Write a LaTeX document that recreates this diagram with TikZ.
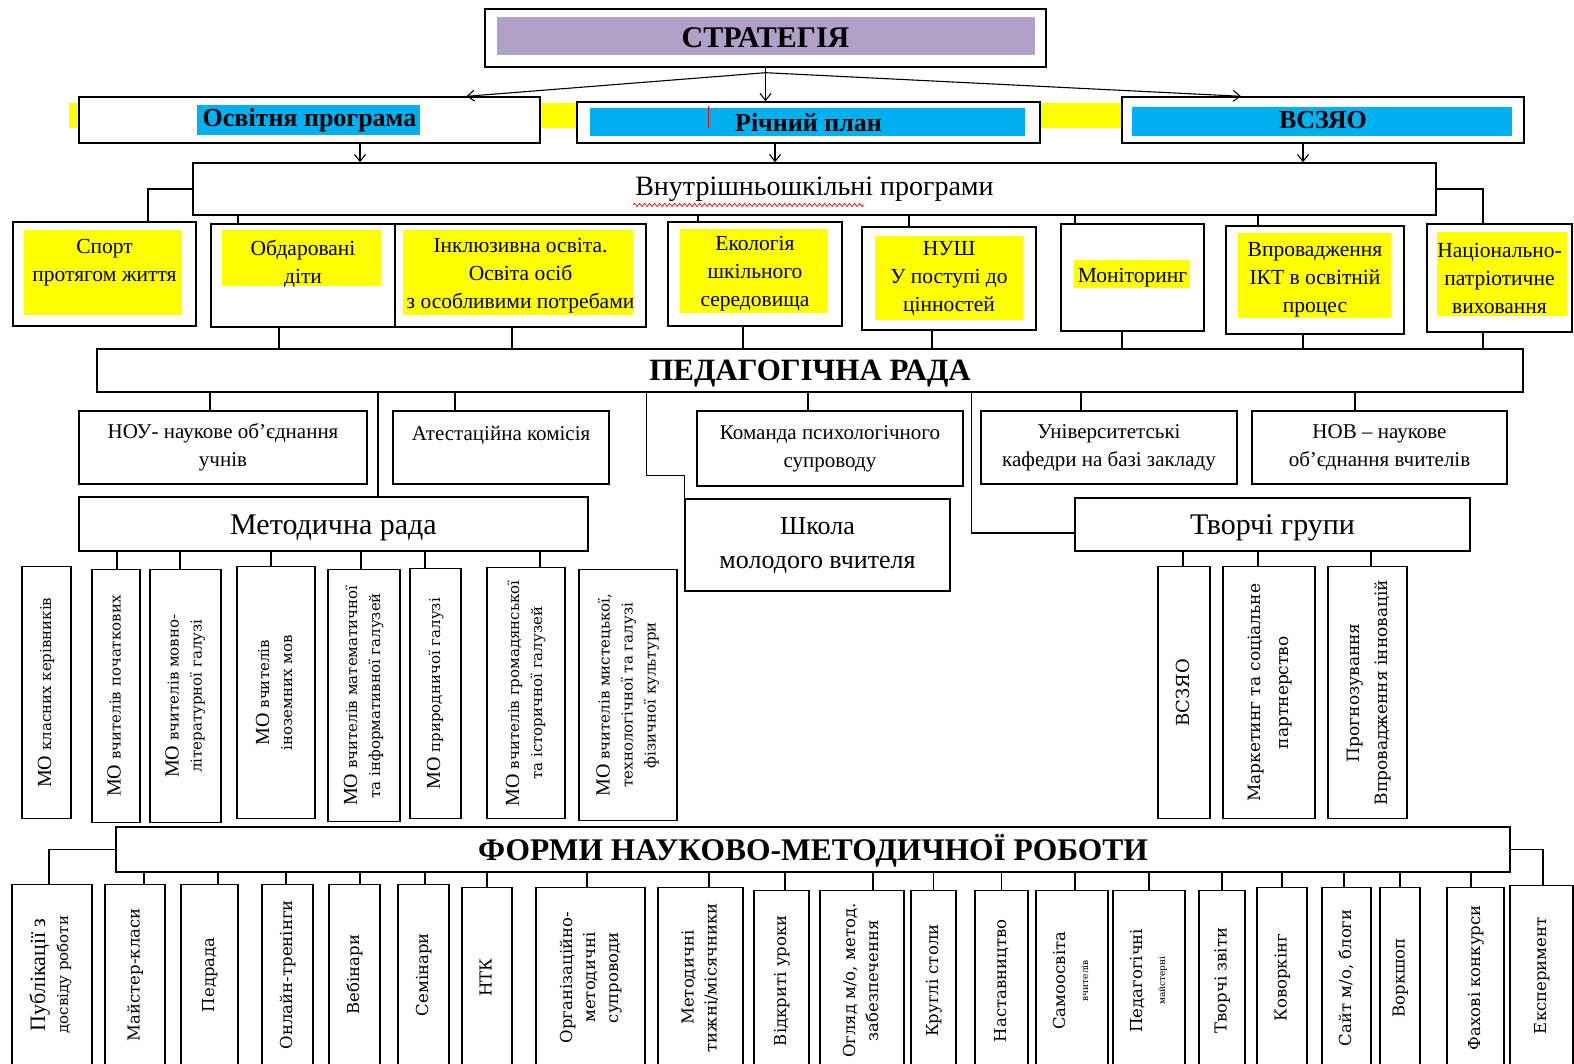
\documentclass[tikz,border=0pt]{standalone}
\usepackage{fontspec}
\setmainfont{Liberation Serif}
\newfontfamily\dejaserif{DejaVu Serif}
\usepackage{graphicx}
\usepackage{tikz}
\usetikzlibrary{arrows.meta, calc, decorations.pathmorphing}
\definecolor{stratpurple}{RGB}{177, 160, 199}
\definecolor{plancyan}{RGB}{0, 176, 240}
\definecolor{markyellow}{RGB}{255, 255, 0}
\newcommand{\vtext}[1]{\rotatebox{90}{\begin{tabular}{@{}c@{}}#1\end{tabular}}}
\newcommand{\molabel}{{\rmfamily\fontsize{20}{22}\selectfont МО}}
\tikzset{
  box/.style={draw, line width=1.4pt, align=center, inner sep=1pt},
  link/.style={line width=1.2pt},
  arr/.style={line width=1.1pt, -{Straight Barb[length=7pt, width=11pt]}},
  toprow/.style={box, font=\fontsize{26}{30}\selectfont\bfseries},
  prog/.style={box, font=\fontsize{21.5}{28}\selectfont},
  unit/.style={box, minimum height=73, font=\fontsize{21}{28}\selectfont},
  council/.style={box, text height=21, text depth=0, font=\fontsize{31}{34}\selectfont\bfseries},
  board/.style={box, text height=20, text depth=0, font=\fontsize{30}{34}\selectfont},
  mobox/.style={box, anchor=north, font=\dejaserif\fontsize{15}{23}\selectfont},
  tgbox/.style={box, anchor=north, minimum height=252, font=\dejaserif\fontsize{17}{28}\selectfont},
  formbox/.style={box, anchor=north, minimum height=180, font=\dejaserif\fontsize{16.5}{23}\selectfont}
}

\begin{document}
\begin{tikzpicture}[x=1pt, y=-1pt]
  \useasboundingbox (0,0) rectangle (1574,1064);

  % Strategy
  \fill[stratpurple] (497,17) rectangle (1035,55);
  \node[box, minimum width=561, minimum height=58, font=\fontsize{30}{36}\selectfont\bfseries] (strat) at (765.5,38) {СТРАТЕГІЯ};

  % Second row with the band behind it
  \fill[markyellow] (69,103) rectangle (1122,128);
  \fill[white] (79,97) rectangle (540,143);
  \fill[white] (577,102) rectangle (1040,143);
  \fill[white] (1122,97) rectangle (1524,143);
  \fill[plancyan] (197,105) rectangle (420,135);
  \fill[plancyan] (590,108) rectangle (1025,136);
  \fill[plancyan] (1132,107) rectangle (1512,136);
  \draw[red, line width=0.8pt] (708,106) -- (708,128);
  \node[toprow, minimum width=461, minimum height=46] (osv) at (309.5,120) {Освітня програма};
  \node[toprow, minimum width=463, minimum height=41] (richn) at (808.5,122.5) {Річний план};
  \node[toprow, minimum width=402, minimum height=46] (vszyao) at (1323,120) {ВСЗЯО};
  \draw[arr] (strat.south) -- (strat.south |- richn.north);
  \draw[arr] ([yshift=-5]strat.south) -- ([xshift=157]osv.north);
  \draw[arr] ([yshift=-5]strat.south) -- ([xshift=-82]vszyao.north);

  % School programmes
  \node[box, minimum width=1243, minimum height=52, font=\fontsize{28}{32}\selectfont] (vnutr) at (814.5,189) {Внутрішньошкільні програми};
  \draw[red, line width=0.7pt, decorate, decoration={snake, amplitude=1.6pt, segment length=5pt}] (633,205) -- (864,205);
  \draw[arr] ([xshift=50.5]osv.south) -- ([xshift=50.5]osv.south |- vnutr.north);
  \draw[arr] ([xshift=-33.5]richn.south) -- ([xshift=-33.5]richn.south |- vnutr.north);
  \draw[arr] ([xshift=-20]vszyao.south) -- ([xshift=-20]vszyao.south |- vnutr.north);

  \fill[markyellow] (24,230) rectangle (182,315);
  \fill[markyellow] (222,230) rectangle (381,286);
  \fill[markyellow] (403,230) rectangle (633,315);
  \fill[markyellow] (680,229) rectangle (828,313);
  \fill[markyellow] (875,236) rectangle (1023,320);
  \fill[markyellow] (1074,260) rectangle (1190,288);
  \fill[markyellow] (1238,233) rectangle (1391,318);
  \fill[markyellow] (1437,232) rectangle (1567,316);
  \node[prog, minimum width=183, minimum height=104] (sport) at (104.5,274) {Спорт\\протягом життя\\~};
  \node[prog, minimum width=184, minimum height=103] (obdar) at (303,275.5) {Обдаровані\\діти\\~};
  \node[prog, minimum width=251, minimum height=103] (inkl) at (520.5,275.5) {Інклюзивна освіта.\\Освіта осіб\\з особливими потребами};
  \node[prog, minimum width=174, minimum height=104] (ekol) at (755,274) {Екологія\\шкільного\\середовища};
  \node[prog, minimum width=174, minimum height=103] (nush) at (949,278.5) {НУШ\\У поступі до\\цінностей};
  \node[prog, minimum width=143, minimum height=107] (monit) at (1132.5,277.5) {Моніторинг};
  \node[prog, minimum width=178, minimum height=108] (vprov) at (1315,280) {Впровадження\\ІКТ в освітній\\процес};
  \node[prog, minimum width=145, minimum height=108] (nacion) at (1499.5,278) {Національно-\\патріотичне\\виховання};
  \draw[link] (vnutr.west) -| ([xshift=43.5]sport.north);
  \draw[link] ([xshift=-65]obdar.north) -- ([xshift=-65]obdar.north |- vnutr.south);
  \draw[link] ([xshift=-57]ekol.north) -- ([xshift=-57]ekol.north |- vnutr.south);
  \draw[link] ([xshift=-40]nush.north) -- ([xshift=-40]nush.north |- vnutr.south);
  \draw[link] ([xshift=-57.5]monit.north) -- ([xshift=-57.5]monit.north |- vnutr.south);
  \draw[link] ([xshift=-57]vprov.north) -- ([xshift=-57]vprov.north |- vnutr.south);
  \draw[link] (vnutr.east) -| ([xshift=-16.5]nacion.north);

  % Pedagogical council
  \node[council, minimum width=1426, minimum height=43] (ped) at (810,370.5) {ПЕДАГОГІЧНА РАДА};
  \draw[link] ([xshift=-24]obdar.south) -- ([xshift=-24]obdar.south |- ped.north);
  \draw[link] ([xshift=-8.5]inkl.south) -- ([xshift=-8.5]inkl.south |- ped.north);
  \draw[link] ([xshift=-12]ekol.south) -- ([xshift=-12]ekol.south |- ped.north);
  \draw[link] ([xshift=-17]nush.south) -- ([xshift=-17]nush.south |- ped.north);
  \draw[link] ([xshift=-10.5]monit.south) -- ([xshift=-10.5]monit.south |- ped.north);
  \draw[link] ([xshift=-12]vprov.south) -- ([xshift=-12]vprov.south |- ped.north);
  \draw[link] ([xshift=-16.5]nacion.south) -- ([xshift=-16.5]nacion.south |- ped.north);

  \node[unit, minimum width=288] (nou) at (223,447.5) {НОУ- наукове об’єднання\\учнів};
  \node[unit, minimum width=216] (atest) at (501,447.5) {Атестаційна комісія\\~};
  \node[unit, minimum width=266, minimum height=75] (komanda) at (830,448.5) {Команда психологічного\\супроводу};
  \node[unit, minimum width=256] (univ) at (1109,447.5) {Університетські\\кафедри на базі закладу};
  \node[unit, minimum width=255] (nov) at (1379.5,447.5) {НОВ – наукове\\об’єднання вчителів};
  \draw[link] ([xshift=-13]nou.north) -- ([xshift=-13]nou.north |- ped.south);
  \draw[link] ([xshift=-46]atest.north) -- ([xshift=-46]atest.north |- ped.south);
  \draw[link] ([xshift=-22]komanda.north) -- ([xshift=-22]komanda.north |- ped.south);
  \draw[link] ([xshift=-28]univ.north) -- ([xshift=-28]univ.north |- ped.south);
  \draw[link] ([xshift=-24.5]nov.north) -- ([xshift=-24.5]nov.north |- ped.south);

  % Methodical council, young teachers, creative groups
  \node[board, minimum width=509, minimum height=54] (metod) at (333.5,524) {Методична рада};
  \node[box, minimum width=265, minimum height=92, font=\fontsize{26}{34}\selectfont] (shkola) at (817.5,545) {Школа\\молодого вчителя};
  \node[board, minimum width=395, minimum height=53] (tvorchi) at (1272.5,524.5) {Творчі групи};
  \draw[link] ([xshift=44.5]metod.north) -- ([xshift=44.5]metod.north |- ped.south);
  \draw[link] (shkola.north west) -- ++(0,-23) -| ([xshift=-38]shkola.north west |- ped.south);
  \draw[link] ([yshift=-8.5]tvorchi.west) -| ([xshift=-103]tvorchi.west |- ped.south);

  % Methodical associations
  \node[mobox, minimum width=49, minimum height=252] (mo1) at (46.5,566) {\vtext{\molabel{} класних керівників}};
  \node[mobox, minimum width=48, minimum height=253] (mo2) at (116,569) {\vtext{\molabel{} вчителів початкових}};
  \node[mobox, minimum width=71, minimum height=253] (mo3) at (185.5,569) {\vtext{\molabel{} вчителів мовно-\\літературної галузі}};
  \node[mobox, minimum width=78, minimum height=252] (mo4) at (276,566) {\vtext{\molabel{} вчителів\\іноземних мов}};
  \node[mobox, minimum width=72, minimum height=252] (mo5) at (364,569) {\vtext{\molabel{} вчителів математичної\\та інформативної галузей}};
  \node[mobox, minimum width=51, minimum height=250] (mo6) at (435.5,568) {\vtext{\molabel{} природничої галузі}};
  \node[mobox, minimum width=78, minimum height=251] (mo7) at (526,567) {\vtext{\molabel{} вчителів громадянської\\та історичної галузей}};
  \node[mobox, minimum width=98, minimum height=251] (mo8) at (628,569) {\vtext{\molabel{} вчителів мистецької,\\технологічної та галузі\\фізичної культури}};
  \draw[link] ([xshift=1]mo2.north) -- ([xshift=1]mo2.north |- metod.south);
  \draw[link] ([xshift=-5.5]mo3.north) -- ([xshift=-5.5]mo3.north |- metod.south);
  \draw[link] ([xshift=-5]mo4.north) -- ([xshift=-5]mo4.north |- metod.south);
  \draw[link] ([xshift=-3]mo5.north) -- ([xshift=-3]mo5.north |- metod.south);
  \draw[link] ([xshift=-10.5]mo6.north) -- ([xshift=-10.5]mo6.north |- metod.south);
  \draw[link] ([xshift=14]mo7.north) -- ([xshift=14]mo7.north |- metod.south);

  % Creative groups
  \node[tgbox, minimum width=52] (tg1) at (1184,566) {\vtext{\fontsize{18}{28}\selectfont ВСЗЯО}};
  \node[tgbox, minimum width=92] (tg2) at (1269,566) {\vtext{Маркетинг та соціальне\\партнерство}};
  \node[tgbox, minimum width=79] (tg3) at (1367.5,566) {\vtext{Прогнозування\\Впровадження інновацій}};
  \draw[link] ([xshift=-1]tg1.north) -- ([xshift=-1]tg1.north |- tvorchi.south);
  \draw[link] ([xshift=-11]tg2.north) -- ([xshift=-11]tg2.north |- tvorchi.south);
  \draw[link] ([xshift=3.5]tg3.north) -- ([xshift=3.5]tg3.north |- tvorchi.south);

  % Forms of work
  \node[council, minimum width=1394, minimum height=45, font=\fontsize{31.5}{34}\selectfont\bfseries] (forms) at (813,849.5) {ФОРМИ НАУКОВО-МЕТОДИЧНОЇ РОБОТИ};
  \node[formbox, minimum width=80] (b1) at (52,884) {\vtext{\rmfamily\fontsize{22}{26}\selectfont Публікації з\\\dejaserif\fontsize{15}{26}\selectfont досвіду роботи}};
  \node[formbox, minimum width=60] (b2) at (135,884) {\vtext{Майстер-класи}};
  \node[formbox, minimum width=57] (b3) at (209.5,884) {\vtext{Педрада}};
  \node[formbox, minimum width=51] (b4) at (287.5,884) {\vtext{Онлайн-тренінги}};
  \node[formbox, minimum width=51] (b5) at (354.5,884) {\vtext{Вебінари}};
  \node[formbox, minimum width=51] (b6) at (423.5,884) {\vtext{Семінари}};
  \node[formbox, minimum width=50] (b7) at (487,887) {\vtext{НТК}};
  \node[formbox, minimum width=109] (b8) at (590.5,887) {\vtext{Організаційно-\\методичні\\супроводи}};
  \node[formbox, minimum width=85] (b9) at (700.5,887) {\vtext{Методичні\\тижні/місячники}};
  \node[formbox, minimum width=55] (b10) at (781.5,890) {\vtext{Відкриті уроки}};
  \node[formbox, minimum width=84] (b11) at (862,890) {\vtext{Огляд м/о, метод.\\забезпечення}};
  \node[formbox, minimum width=45] (b12) at (933.5,890) {\vtext{Круглі столи}};
  \node[formbox, minimum width=53] (b13) at (1001.5,890) {\vtext{Наставництво}};
  \node[formbox, minimum width=72] (b14) at (1072,890) {\vtext{Самоосвіта\\\fontsize{9}{12}\selectfont вчителів}};
  \node[formbox, minimum width=72] (b15) at (1149,890) {\vtext{Педагогічні\\\fontsize{9}{12}\selectfont майстерні}};
  \node[formbox, minimum width=46] (b16) at (1222,890) {\vtext{Творчі звіти}};
  \node[formbox, minimum width=50] (b17) at (1282,887) {\vtext{Коворкінг}};
  \node[formbox, minimum width=49] (b18) at (1346.5,887) {\vtext{Сайт м/о, блоги}};
  \node[formbox, minimum width=40] (b19) at (1400,887) {\vtext{Воркшоп}};
  \node[formbox, minimum width=57] (b20) at (1475.5,887) {\vtext{Фахові конкурси}};
  \node[formbox, minimum width=63] (b21) at (1541.5,885) {\vtext{Експеримент}};
  \draw[link] (forms.west) -| ([xshift=-3]b1.north);
  \draw[link] ([xshift=9]b2.north) -- ([xshift=9]b2.north |- forms.south);
  \draw[link] ([xshift=8.5]b3.north) -- ([xshift=8.5]b3.north |- forms.south);
  \draw[link] ([xshift=-1.5]b4.north) -- ([xshift=-1.5]b4.north |- forms.south);
  \draw[link] ([xshift=5.5]b5.north) -- ([xshift=5.5]b5.north |- forms.south);
  \draw[link] ([xshift=1.5]b6.north) -- ([xshift=1.5]b6.north |- forms.south);
  \draw[link] (b7.north) -- (b7.north |- forms.south);
  \draw[link] ([xshift=-3.5]b8.north) -- ([xshift=-3.5]b8.north |- forms.south);
  \draw[link] ([xshift=8.5]b9.north) -- ([xshift=8.5]b9.north |- forms.south);
  \draw[link] ([xshift=3.5]b10.north) -- ([xshift=3.5]b10.north |- forms.south);
  \draw[link] ([xshift=11]b11.north) -- ([xshift=11]b11.north |- forms.south);
  \draw[link] (b12.north) -- (b12.north |- forms.south);
  \draw[link] (b13.north) -- (b13.north |- forms.south);
  \draw[link] ([xshift=3]b14.north) -- ([xshift=3]b14.north |- forms.south);
  \draw[link] (b15.north) -- (b15.north |- forms.south);
  \draw[link] (b16.north) -- (b16.north |- forms.south);
  \draw[link] (b17.north) -- (b17.north |- forms.south);
  \draw[link] ([xshift=-2.5]b18.north) -- ([xshift=-2.5]b18.north |- forms.south);
  \draw[link] (b19.north) -- (b19.north |- forms.south);
  \draw[link] ([xshift=-4.5]b20.north) -- ([xshift=-4.5]b20.north |- forms.south);
  \draw[link] (forms.east) -| ([xshift=1.5]b21.north);
\end{tikzpicture}
\end{document}
